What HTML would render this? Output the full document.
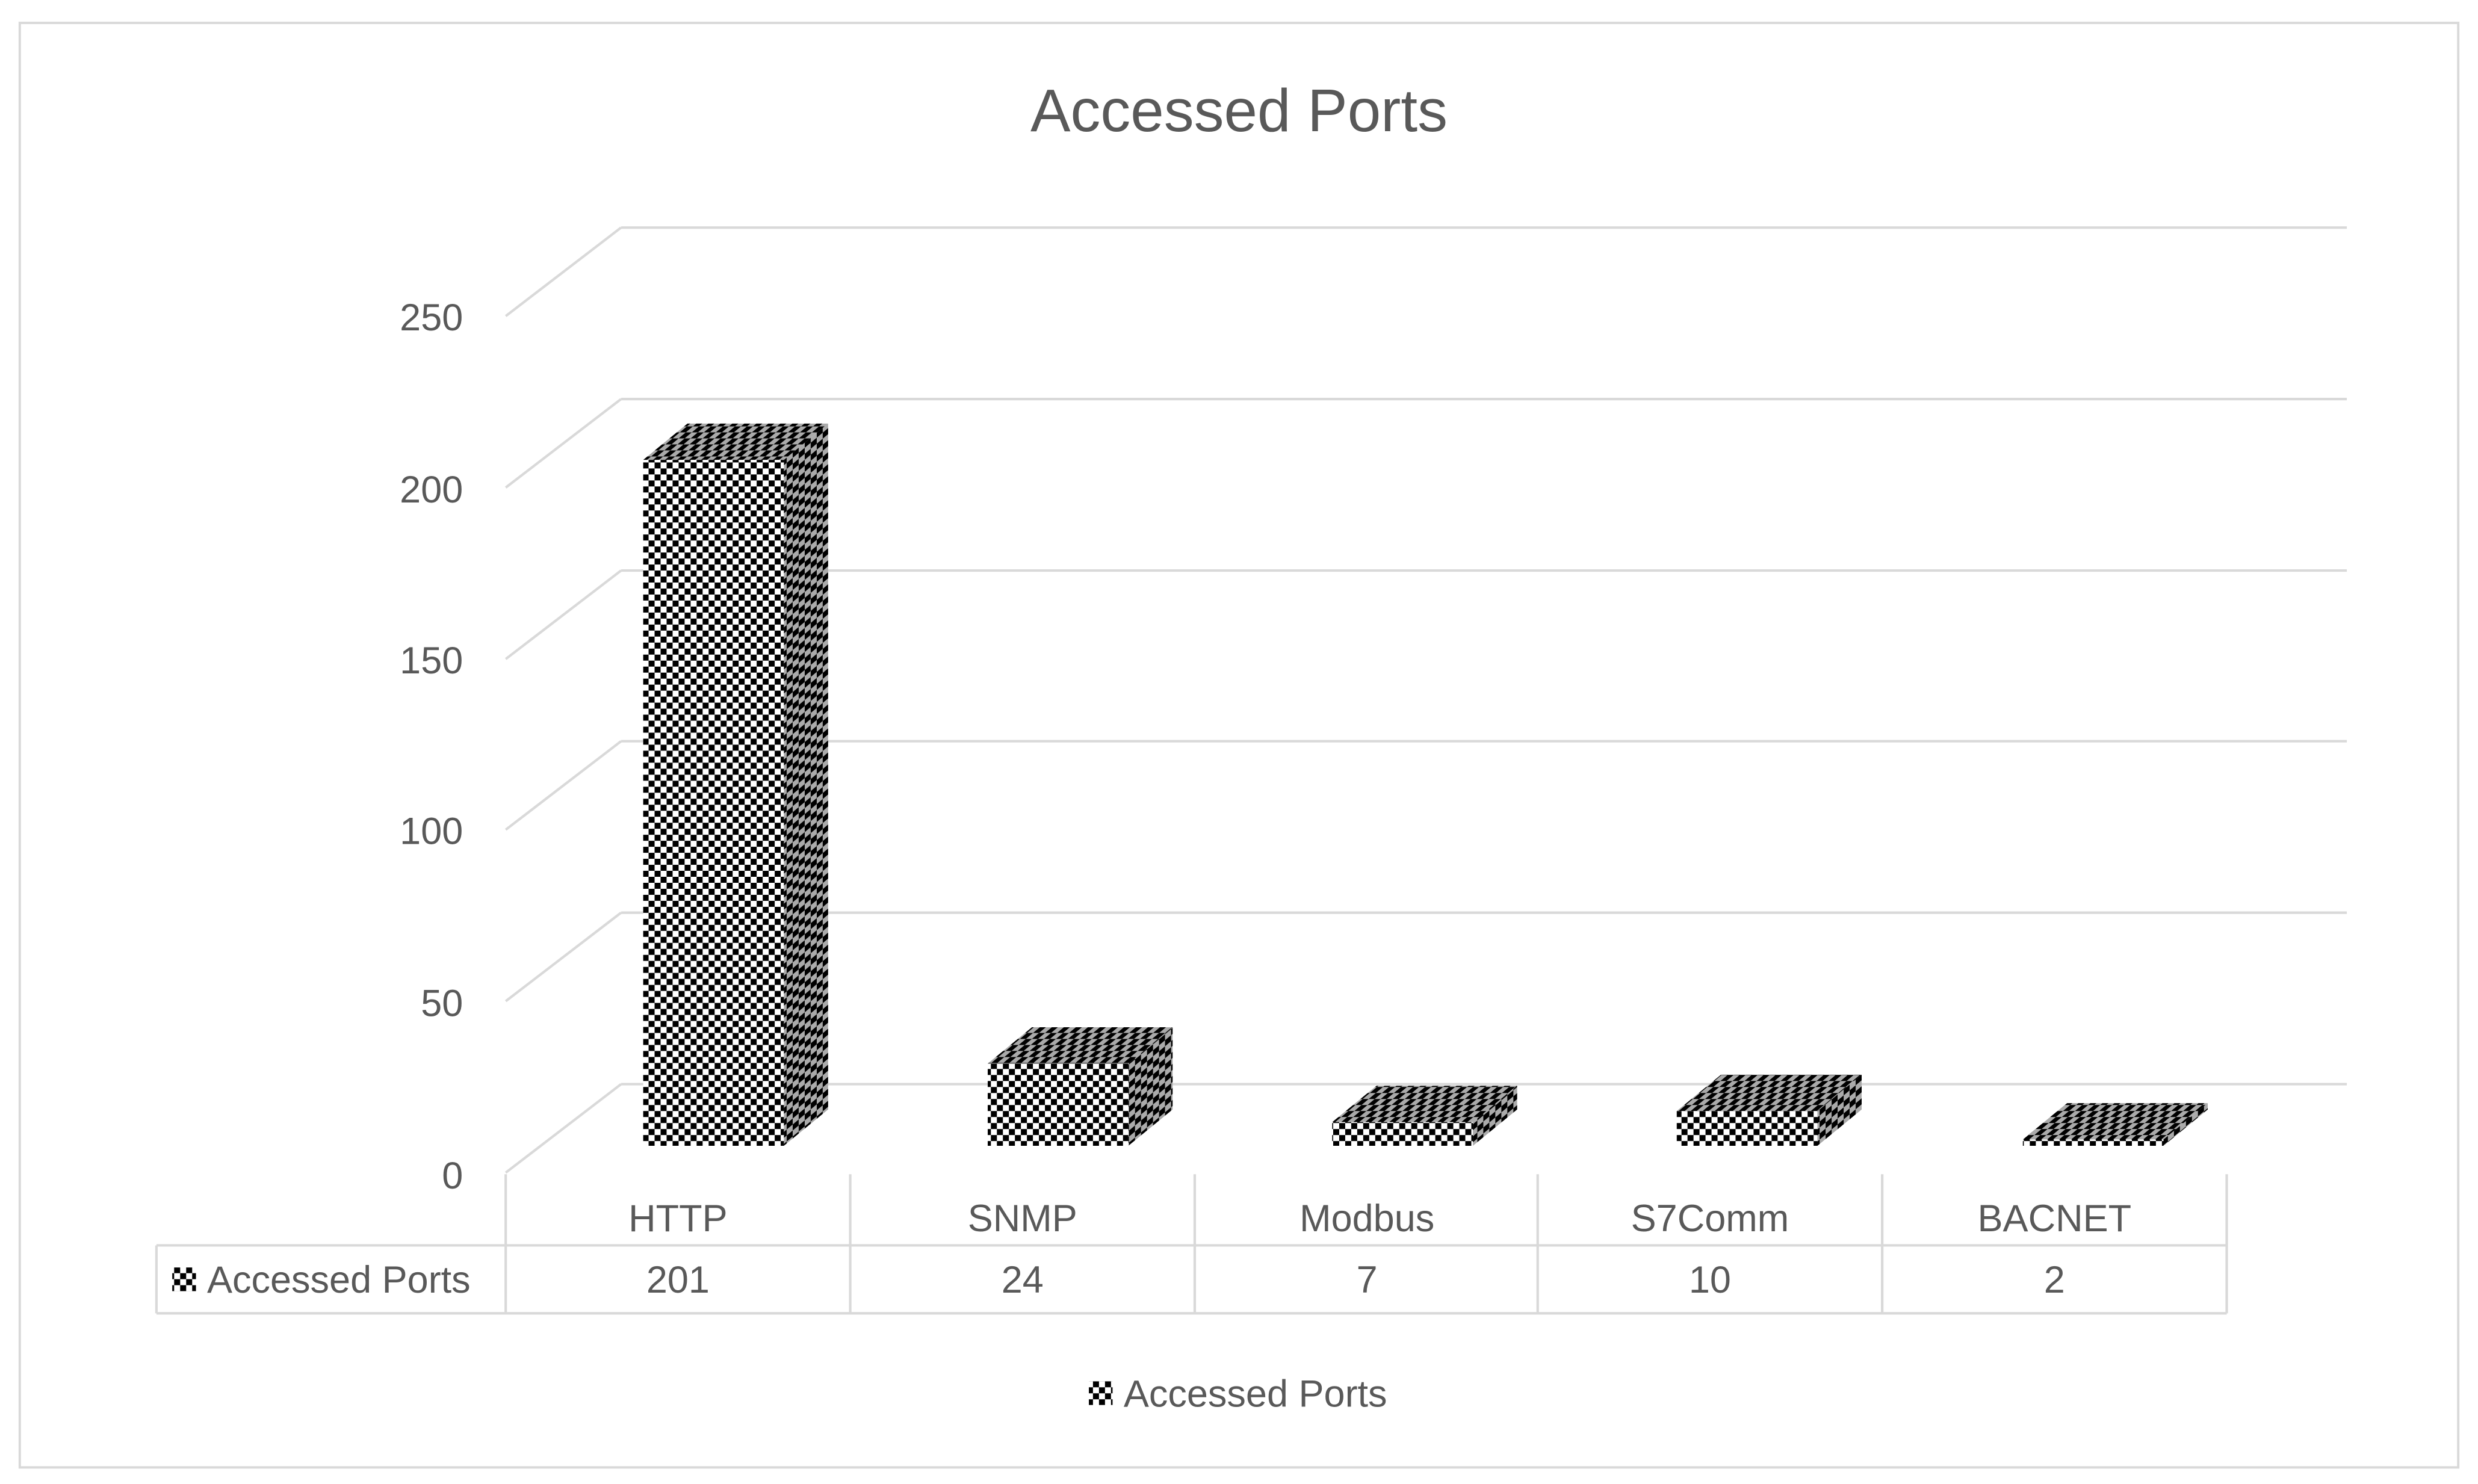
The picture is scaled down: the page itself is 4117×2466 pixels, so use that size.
<!DOCTYPE html>
<html><head><meta charset="utf-8">
<style>
html,body{margin:0;padding:0;background:#fff;}
svg{display:block;}
text{font-family:"Liberation Sans",sans-serif;fill:#595959;}
</style></head>
<body>
<svg width="4117" height="2466" viewBox="0 0 1568 939" preserveAspectRatio="none" xmlns="http://www.w3.org/2000/svg">
<defs>
<pattern id="chk" width="7.6" height="7.6" patternUnits="userSpaceOnUse">
<rect width="7.6" height="7.6" fill="#fff"/>
<rect width="3.8" height="3.8" fill="#000"/>
<rect x="3.8" y="3.8" width="3.8" height="3.8" fill="#000"/>
</pattern>
<pattern id="chkTop" width="7.6" height="7.6" patternUnits="userSpaceOnUse" patternTransform="skewX(-50)">
<rect width="7.6" height="7.6" fill="#aaa"/>
<rect width="3.8" height="3.8" fill="#000"/>
<rect x="3.8" y="3.8" width="3.8" height="3.8" fill="#000"/>
</pattern>
<pattern id="chkSide" width="7.6" height="7.6" patternUnits="userSpaceOnUse" patternTransform="skewY(-40)">
<rect width="7.6" height="7.6" fill="#aaa"/>
<rect width="3.8" height="3.8" fill="#000"/>
<rect x="3.8" y="3.8" width="3.8" height="3.8" fill="#000"/>
</pattern>
</defs>
<rect x="0" y="0" width="1568" height="939" fill="#fff"/>
<rect x="12.5" y="14.5" width="1543" height="914" fill="none" stroke="#d9d9d9" stroke-width="1.5"/>
<text x="784" y="83" font-size="38" text-anchor="middle">Accessed Ports</text>

<g stroke="#d9d9d9" stroke-width="1.6" fill="none">
<line x1="393" y1="144" x2="1485" y2="144"/>
<line x1="393" y1="252.5" x2="1485" y2="252.5"/>
<line x1="393" y1="361" x2="1485" y2="361"/>
<line x1="393" y1="469" x2="1485" y2="469"/>
<line x1="393" y1="577.5" x2="1485" y2="577.5"/>
<line x1="393" y1="686" x2="1485" y2="686"/>
<line x1="320" y1="200" x2="393" y2="144"/>
<line x1="320" y1="308.5" x2="393" y2="252.5"/>
<line x1="320" y1="417" x2="393" y2="361"/>
<line x1="320" y1="525" x2="393" y2="469"/>
<line x1="320" y1="633.5" x2="393" y2="577.5"/>
<line x1="320" y1="742" x2="393" y2="686"/>
<!-- table -->
<line x1="320" y1="743" x2="320" y2="831"/>
<line x1="538" y1="743" x2="538" y2="831"/>
<line x1="756" y1="743" x2="756" y2="831"/>
<line x1="973" y1="743" x2="973" y2="831"/>
<line x1="1191" y1="743" x2="1191" y2="831"/>
<line x1="1409" y1="743" x2="1409" y2="831"/>
<line x1="99" y1="788" x2="1409" y2="788"/>
<line x1="99" y1="831" x2="1409" y2="831"/>
<line x1="99" y1="788" x2="99" y2="831"/>
</g>

<g font-size="24" text-anchor="end">
<text x="293" y="209">250</text>
<text x="293" y="318">200</text>
<text x="293" y="426">150</text>
<text x="293" y="534">100</text>
<text x="293" y="643">50</text>
<text x="293" y="752">0</text>
</g>

<!-- bars: front x, width 89, top y; base 725; depth dx 28 dy -23 -->
<g>
<!-- HTTP -->
<polygon points="407,291 435,268 524,268 496,291" fill="url(#chkTop)"/>
<polygon points="496,291 524,268 524,702 496,725" fill="url(#chkSide)"/>
<rect x="407" y="291" width="89" height="434" fill="url(#chk)"/>
<!-- SNMP -->
<polygon points="625,673 653,650 742,650 714,673" fill="url(#chkTop)"/>
<polygon points="714,673 742,650 742,702 714,725" fill="url(#chkSide)"/>
<rect x="625" y="673" width="89" height="52" fill="url(#chk)"/>
<!-- Modbus -->
<polygon points="843,710 871,687 960,687 932,710" fill="url(#chkTop)"/>
<polygon points="932,710 960,687 960,702 932,725" fill="url(#chkSide)"/>
<rect x="843" y="710" width="89" height="15" fill="url(#chk)"/>
<!-- S7Comm -->
<polygon points="1061,703 1089,680 1178,680 1150,703" fill="url(#chkTop)"/>
<polygon points="1150,703 1178,680 1178,702 1150,725" fill="url(#chkSide)"/>
<rect x="1061" y="703" width="89" height="22" fill="url(#chk)"/>
<!-- BACNET -->
<polygon points="1280,721 1308,698 1397,698 1369,721" fill="url(#chkTop)"/>
<polygon points="1369,721 1397,698 1397,702 1369,725" fill="url(#chkSide)"/>
<rect x="1280" y="721" width="89" height="4" fill="url(#chk)"/>
</g>

<g font-size="24" text-anchor="middle">
<text x="429" y="779">HTTP</text>
<text x="647" y="779">SNMP</text>
<text x="865" y="779">Modbus</text>
<text x="1082" y="779">S7Comm</text>
<text x="1300" y="779">BACNET</text>
<text x="429" y="818">201</text>
<text x="647" y="818">24</text>
<text x="865" y="818">7</text>
<text x="1082" y="818">10</text>
<text x="1300" y="818">2</text>
</g>
<rect x="109" y="802" width="15" height="15" fill="url(#chk)"/>
<text x="131" y="818" font-size="24">Accessed Ports</text>

<rect x="689" y="874" width="15" height="15" fill="url(#chk)"/>
<text x="711" y="890" font-size="24">Accessed Ports</text>
</svg>
</body></html>
